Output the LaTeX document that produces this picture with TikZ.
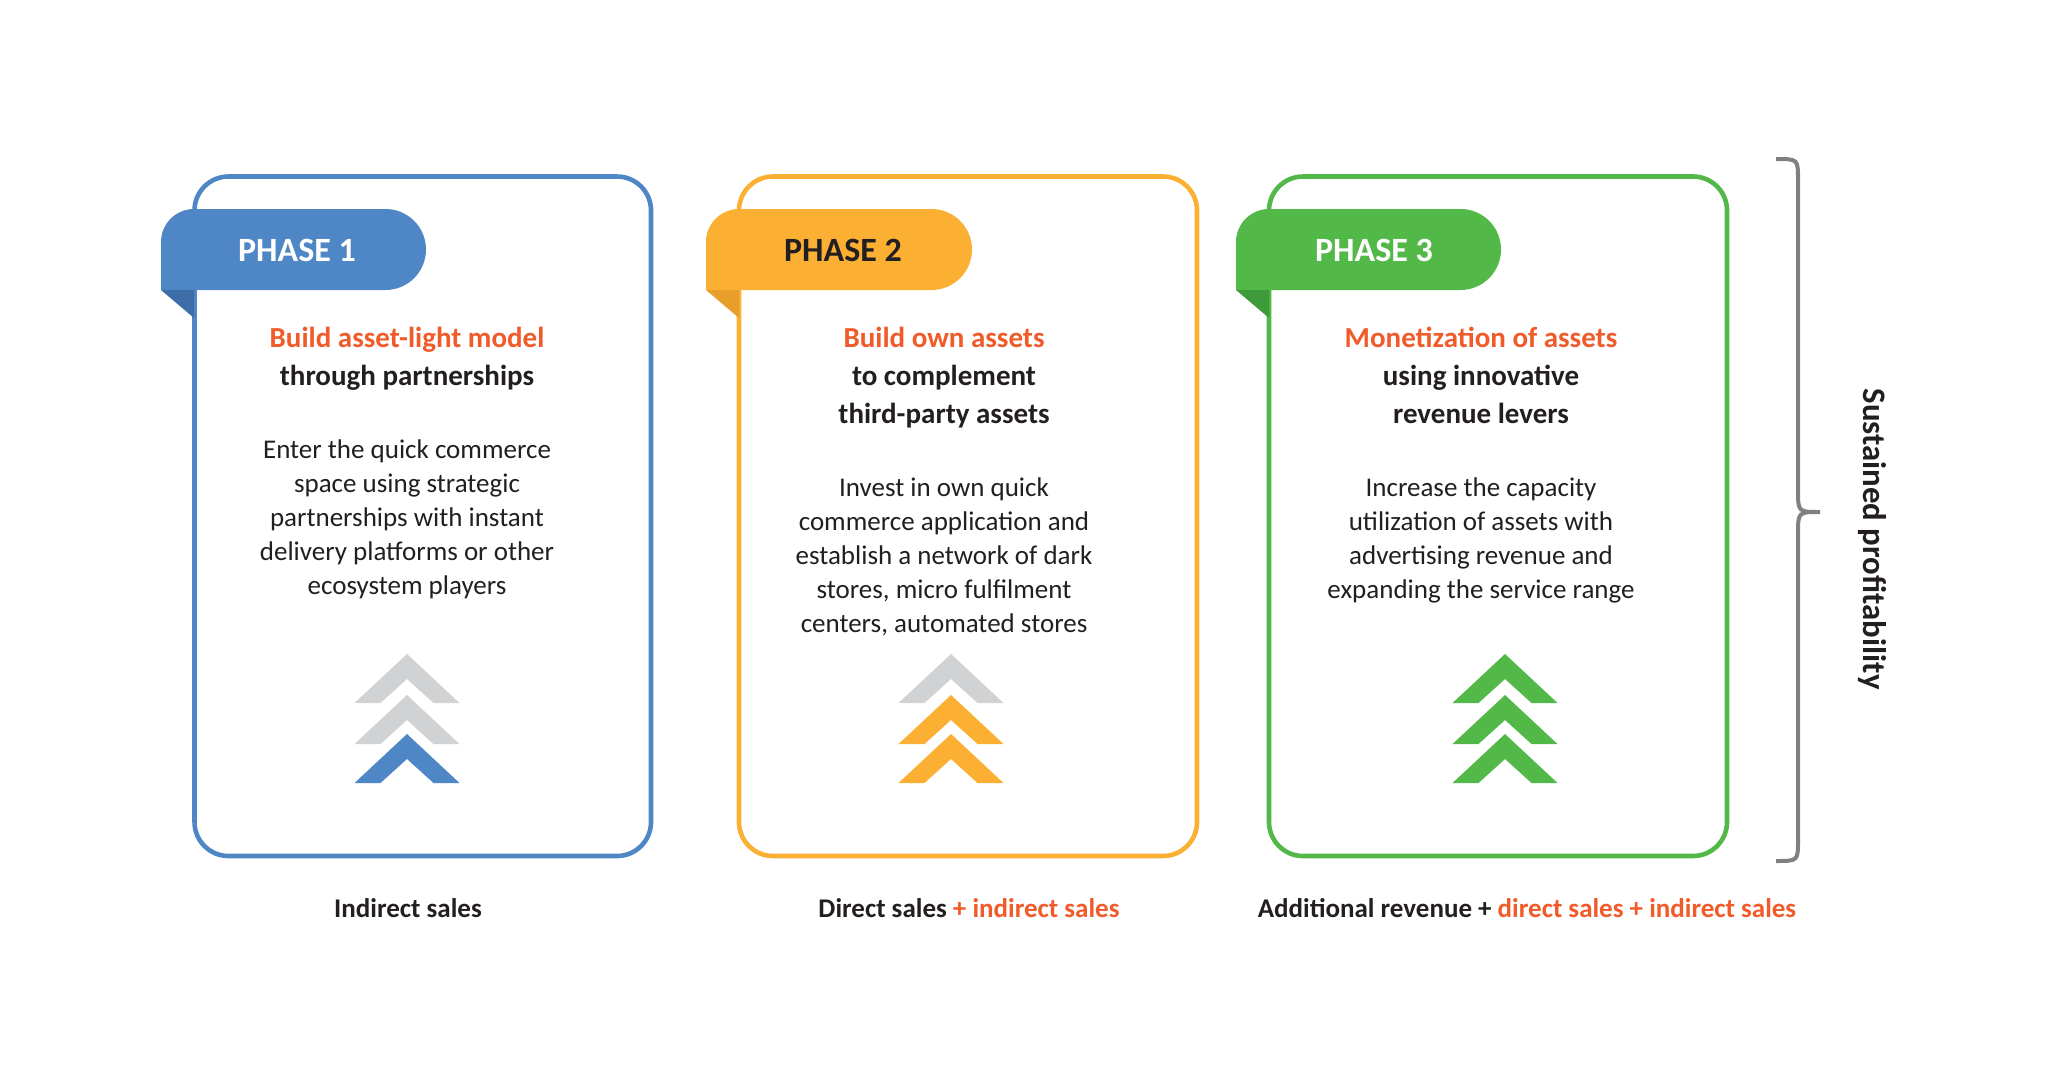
\documentclass[tikz,border=0pt]{standalone}
\usepackage{fontspec}
\setmainfont{Carlito}
\definecolor{pblue}{HTML}{4F86C6}
\definecolor{pbluedk}{HTML}{3D6EA8}
\definecolor{porange}{HTML}{FBB034}
\definecolor{porangedk}{HTML}{E89E2A}
\definecolor{pgreen}{HTML}{52B848}
\definecolor{pgreendk}{HTML}{3F9A3A}
\definecolor{ptitle}{HTML}{F15A29}
\definecolor{ptext}{HTML}{231F20}
\definecolor{pgray}{HTML}{D1D2D4}
\definecolor{pbrace}{HTML}{808080}
\tikzset{
  phasebox/.style={line width=2.3pt, rounded corners=17pt},
  tabtext/.style={font=\fontsize{17}{20}\selectfont\bfseries},
  titletext/.style={font=\fontsize{14.5}{19}\selectfont\bfseries, text=ptext, align=center, inner sep=0pt},
  bodytext/.style={font=\fontsize{13.5}{17}\selectfont, text=ptext, align=center, inner sep=0pt},
  bottomtext/.style={font=\fontsize{13.5}{16}\selectfont\bfseries, text=ptext, inner sep=0pt},
}
\newcommand{\chev}[3]{% center x, apex y, color
  \fill[#3] (#1,#2) -- (#1+52.5,#2+49) -- (#1+26.5,#2+49) -- (#1,#2+25) -- (#1-26.5,#2+49) -- (#1-52.5,#2+49) -- cycle;}
\newcommand{\phasetab}[4]{% left x, right x, fill, dark
  \fill[#3] (#1,290) -- (#1,242) arc[start angle=180,end angle=270,radius=33] -- (#2-40.5,209) arc[start angle=270,end angle=450,radius=40.5] -- cycle;
  \fill[#4] (#1,290) -- (#1+33,290) -- (#1+33,318) -- cycle;}
\begin{document}
\begin{tikzpicture}[x=0.5pt,y=-0.5pt]
\useasboundingbox[fill=white] (0,0) rectangle (2048,1076);
% boxes
\draw[phasebox, draw=pblue] (194.5,176.5) rectangle (651,856);
\draw[phasebox, draw=porange] (739,176.5) rectangle (1197,856);
\draw[phasebox, draw=pgreen] (1269,176.5) rectangle (1727,856);
% tabs
\phasetab{161}{426}{pblue}{pbluedk}
\phasetab{706}{972}{porange}{porangedk}
\phasetab{1236}{1501}{pgreen}{pgreendk}
\node[tabtext, text=white] (tab1) at (297,250) {PHASE 1};
\node[tabtext, text=ptext] (tab2) at (843,250) {PHASE 2};
\node[tabtext, text=white] (tab3) at (1374,250) {PHASE 3};
% titles
\node[titletext] (title1) at (407,359) {\textcolor{ptitle}{Build asset-light model}\\through partnerships};
\node[titletext] (title2) at (944,378) {\textcolor{ptitle}{Build own assets}\\to complement\\third-party assets};
\node[titletext] (title3) at (1481,375) {\textcolor{ptitle}{Monetization of assets}\\using innovative\\revenue levers};
% bodies
\node[bodytext] (body1) at (407,519) {Enter the quick commerce\\space using strategic\\partnerships with instant\\delivery platforms or other\\ecosystem players};
\node[bodytext] (body2) at (944,557) {Invest in own quick\\commerce application and\\establish a network of dark\\stores, micro fulfilment\\centers, automated stores};
\node[bodytext] (body3) at (1481,540) {Increase the capacity\\utilization of assets with\\advertising revenue and\\expanding the service range};
% chevrons
\chev{407}{654}{pgray}\chev{407}{695}{pgray}\chev{407}{734}{pblue}
\chev{951}{654}{pgray}\chev{951}{695}{porange}\chev{951}{734}{porange}
\chev{1505}{654}{pgreen}\chev{1505}{695}{pgreen}\chev{1505}{734}{pgreen}
% bottom labels
\node[bottomtext] (bot1) at (408,908) {Indirect sales};
\node[bottomtext] (bot2) at (969,908) {Direct sales \textcolor{ptitle}{+ indirect sales}};
\node[bottomtext] (bot3) at (1527,908) {Additional revenue + \textcolor{ptitle}{direct sales + indirect sales}};
% brace
\coordinate (bt) at (1776,159);
\coordinate (bm) at (1820,512);
\coordinate (bb) at (1776,861);
\draw[pbrace, line width=2pt] (bt) .. controls (1798,159) .. (1798,180) -- (1798,490) .. controls (1798,512) .. (bm)
  (bm) .. controls (1798,512) .. (1798,534) -- (1798,840) .. controls (1798,861) .. (bb);
\node[font=\fontsize{16.4}{18}\selectfont\bfseries, text=ptext, rotate=-90] (sust) at (1872,539) {Sustained profitability};
\end{tikzpicture}
\end{document}
